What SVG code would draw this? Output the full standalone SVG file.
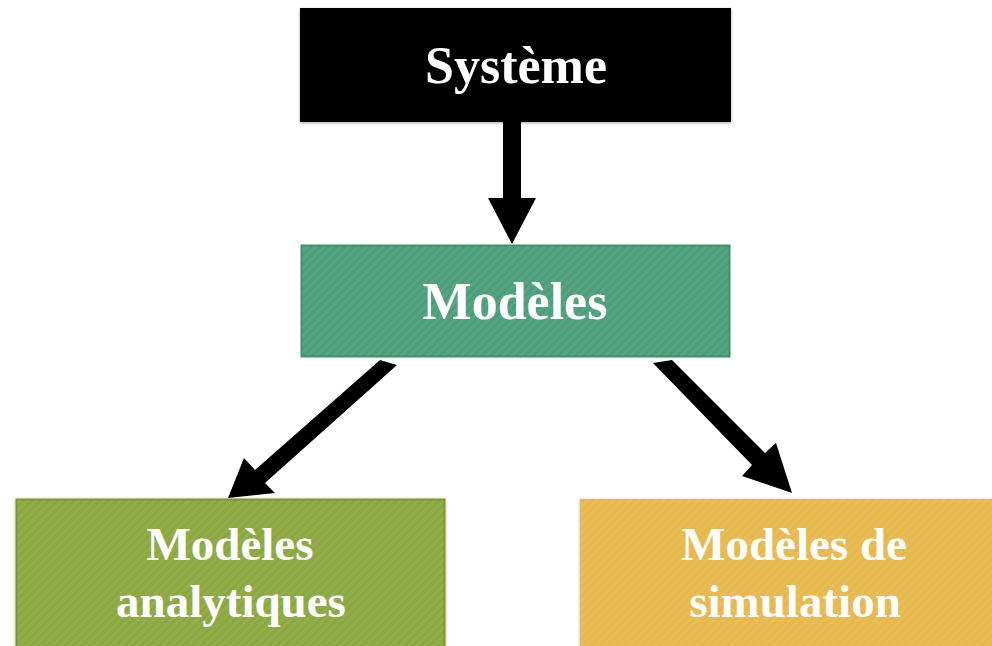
<svg xmlns="http://www.w3.org/2000/svg" width="992" height="646" viewBox="0 0 992 646">
<defs>
<pattern id="stripes" width="6" height="6" patternUnits="userSpaceOnUse" patternTransform="rotate(45)">
<rect width="3" height="6" fill="#ffffff" fill-opacity="0.06"/>
</pattern>
<filter id="sh" x="-5%" y="-5%" width="110%" height="115%">
<feDropShadow dx="0" dy="1" stdDeviation="1.5" flood-color="#000" flood-opacity="0.35"/>
</filter>
</defs>
<style>
.lbl{font-family:"Liberation Serif","Times New Roman",serif;font-weight:bold;fill:#ffffff;text-anchor:middle}
.big{font-size:52px}
.med{font-size:47px}
.arrow{fill:#000000}
</style>
<rect width="992" height="646" fill="#ffffff"/>
<g id="connectors">
<polygon class="arrow" points="503,122 521,122 521,198 536,198 512,244 488,198 503,198"/>
<polygon class="arrow" points="380,360 397,365 265,483 275,493 228,498 244,458 255,470"/>
<polygon class="arrow" points="653,363 672,360 765,453 776,443 792,493 742,476 752,465"/>
</g>
<g id="systeme">
<rect x="300" y="8" width="431" height="114" fill="#000000" filter="url(#sh)"/>
<text class="lbl big" x="516" y="83">Système</text>
</g>
<g id="modeles">
<rect x="301.5" y="245.5" width="428" height="111" fill="#4b9e79" stroke="#3e9069" stroke-width="2"/>
<rect x="302" y="246" width="427" height="110" fill="url(#stripes)"/>
<text class="lbl big" x="515" y="319">Modèles</text>
</g>
<g id="analytiques">
<rect x="16.5" y="499.5" width="428" height="150" fill="#8ba83f" stroke="#7b9733" stroke-width="2" filter="url(#sh)"/>
<rect x="17" y="500" width="427" height="150" fill="url(#stripes)"/>
<text class="lbl med" x="230" y="560">Modèles</text>
<text class="lbl med" x="231" y="617">analytiques</text>
</g>
<g id="simulation">
<rect x="580" y="499" width="414" height="150" fill="#e7b84b" filter="url(#sh)"/>
<rect x="580" y="499" width="414" height="150" fill="url(#stripes)"/>
<text class="lbl med" x="794" y="560">Modèles de</text>
<text class="lbl med" x="795" y="617">simulation</text>
</g>
</svg>
